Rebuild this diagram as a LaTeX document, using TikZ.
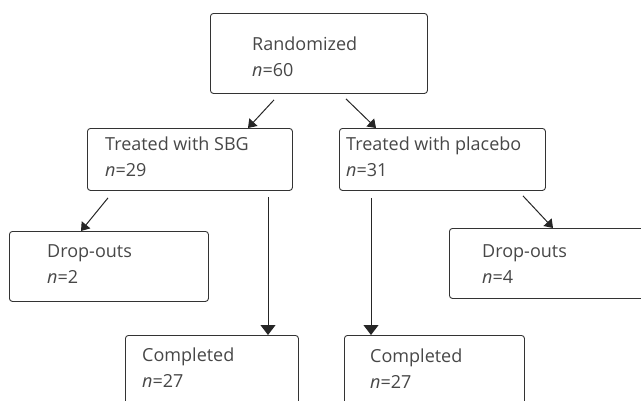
\documentclass[tikz,border=0pt]{standalone}
\usepackage{fontspec}
\setmainfont{Open Sans}
\usetikzlibrary{arrows.meta}
\begin{document}
\begin{tikzpicture}[x=1pt,y=-1pt,
  box/.style={draw=black!80, line width=0.9pt, rounded corners=3pt, inner sep=0pt, anchor=north west},
  txt/.style={anchor=base west, align=left, inner sep=0pt, text=black!72, font=\fontsize{18}{26}\selectfont},
  arr/.style={draw=black!85, line width=1pt, -{Triangle[width=11pt,length=8pt]}},
  varr/.style={draw=black!85, line width=1pt, -{Triangle[width=15pt,length=10pt]}}]
\useasboundingbox (0,0) rectangle (641,400);
\clip (0,0) rectangle (641,400);
\node[box, minimum width=217pt, minimum height=80pt] (R) at (210,13) {};
\node[box, minimum width=205pt, minimum height=62pt] (S) at (87,128) {};
\node[box, minimum width=206pt, minimum height=62pt] (P) at (339,128) {};
\node[box, minimum width=199pt, minimum height=70pt] (DL) at (9,231) {};
\node[box, minimum width=200pt, minimum height=70pt] (DR) at (449,228) {};
\node[box, minimum width=173pt, minimum height=80pt] (CL) at (125,335) {};
\node[box, minimum width=180pt, minimum height=80pt] (CR) at (344,335) {};
\node[txt] (Rt) at (252,76) {Randomized\\\textit{n}=60};
\node[txt] (St) at (105,176) {Treated with SBG\\\textit{n}=29};
\node[txt] (Pt) at (346,176) {Treated with placebo\\\textit{n}=31};
\node[txt] (DLt) at (47,283) {Drop-outs\\\textit{n}=2};
\node[txt] (DRt) at (482,283) {Drop-outs\\\textit{n}=4};
\node[txt] (CLt) at (142,387) {Completed\\\textit{n}=27};
\node[txt] (CRt) at (370,388) {Completed\\\textit{n}=27};
\draw[arr] ([xshift=64pt,yshift=-6pt]R.south west) -- ([xshift=161pt]S.north west);
\draw[arr] ([xshift=136pt,yshift=-5pt]R.south west) -- ([xshift=37pt]P.north west);
\draw[arr] ([xshift=21pt,yshift=-7pt]S.south west) -- ([xshift=72pt]DL.north west);
\draw[varr] ([xshift=181pt,yshift=-6pt]S.south west) -- ([xshift=143pt]CL.north west);
\draw[varr] ([xshift=32pt,yshift=-7pt]P.south west) -- ([xshift=27pt]CR.north west);
\draw[arr] ([xshift=184pt,yshift=-5pt]P.south west) -- ([xshift=104pt]DR.north west);
\end{tikzpicture}
\end{document}
